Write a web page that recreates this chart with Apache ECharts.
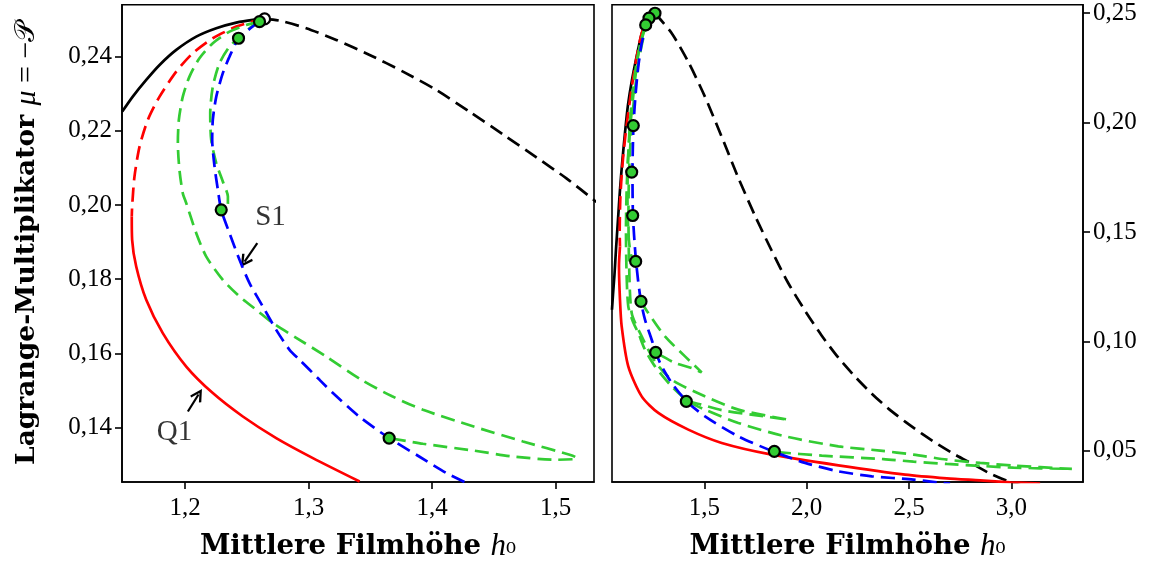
<!DOCTYPE html>
<html><head><meta charset="utf-8">
<script src="https://cdn.jsdelivr.net/npm/echarts@6/dist/echarts.min.js"></script>
<style>html,body{margin:0;padding:0;background:#fff}#c{width:1162px;height:567px}</style>
</head><body><div id="c"></div>
<script>
// ---------- tick labels ----------
const leftXTicks = [1.2, 1.3, 1.4, 1.5];
const leftYTicks = [0.14, 0.16, 0.18, 0.20, 0.22, 0.24];
const rightXTicks = [1.5, 2.0, 2.5, 3.0];
const rightYTicks = [0.05, 0.10, 0.15, 0.20, 0.25];

// ---------- left panel (zoom) ----------
const leftBlackSolid = [[1.1492,0.22518],[1.1577,0.22922],[1.1686,0.23372],[1.1794,0.23776],[1.1929,0.24181],[1.2091,0.24539],[1.2253,0.24765],[1.2415,0.24916],[1.2549,0.24989],[1.2644,0.25016]];
const leftBlackDashed = [[1.2644,0.25016],[1.2765,0.2497],[1.2981,0.24766],[1.3224,0.24450],[1.3494,0.24046],[1.3764,0.23596],[1.4034,0.23102],[1.4304,0.22509],[1.4573,0.21903],[1.4844,0.21283],[1.5087,0.20717],[1.5330,0.20080]];
const leftRedDashed = [[1.2644,0.2502],[1.2577,0.2497],[1.2415,0.24809],[1.2225,0.24496],[1.2063,0.24092],[1.1929,0.23596],[1.1794,0.22922],[1.1699,0.22294],[1.1632,0.21574],[1.1591,0.20766],[1.1572,0.19957],[1.1569,0.19688]];
const leftRedSolid = [[1.1569,0.19688],[1.1572,0.19059],[1.1605,0.18340],[1.1686,0.17442],[1.1820,0.16544],[1.2010,0.15644],[1.2225,0.14927],[1.2468,0.14296],[1.2738,0.13714],[1.3035,0.13175],[1.3413,0.12544]];
const leftBlue = [[1.2603,0.24962],[1.2563,0.24854],[1.2496,0.24674],[1.2433,0.24496],[1.2360,0.24000],[1.2306,0.23553],[1.2253,0.22922],[1.2225,0.22294],[1.2220,0.21755],[1.2239,0.21035],[1.2266,0.20407],[1.2293,0.19868],[1.2360,0.19240],[1.2441,0.18521],[1.2522,0.17892],[1.2630,0.17261],[1.2738,0.16633],[1.2846,0.16094],[1.2927,0.15825],[1.3089,0.15285],[1.3197,0.14927],[1.3409,0.14296],[1.3652,0.13714],[1.3895,0.13218],[1.4115,0.12771],[1.4263,0.12528]];
const leftGreenLong = [[1.2603,0.24943],[1.2496,0.24854],[1.2360,0.24674],[1.2225,0.24361],[1.2117,0.23957],[1.2036,0.23461],[1.1982,0.22922],[1.1950,0.22294],[1.1942,0.21666],[1.1955,0.20946],[1.1982,0.20318],[1.2010,0.20049],[1.2091,0.19240],[1.2172,0.18609],[1.2306,0.17981],[1.2441,0.17531],[1.2577,0.17173],[1.2711,0.16814],[1.2900,0.16418],[1.3143,0.15914],[1.3427,0.15286],[1.3676,0.14841],[1.3926,0.14477],[1.4330,0.14032],[1.4735,0.13623],[1.5113,0.13264],[1.5172,0.13175],[1.5154,0.13148],[1.5006,0.13129],[1.4654,0.13218],[1.4330,0.13380],[1.3926,0.13561],[1.3656,0.13714]];
const leftGreenShort = [[1.2603,0.24943],[1.2522,0.24766],[1.2433,0.24496],[1.2360,0.24270],[1.2279,0.23822],[1.2225,0.23191],[1.2204,0.22474],[1.2212,0.21755],[1.2253,0.21127],[1.2306,0.20631],[1.2347,0.20226],[1.2347,0.20030],[1.2320,0.19914],[1.2293,0.19868]];
const leftDots = [[1.2603,0.24943],[1.2433,0.24496],[1.2293,0.19868],[1.3652,0.13714]];
const leftFold = [[1.2644,0.25016]];
const leftLabels = [{name:'S1', value:[1.2692,0.19652]}, {name:'Q1', value:[1.1915,0.13857]}];
const leftArrows = [[[1.2585,0.18970],[1.2482,0.18474]], [[1.2023,0.14431],[1.2109,0.14889]]];

// ---------- right panel (overview) ----------
const rightBlackSolid = [[1.2590,0.25000],[1.2248,0.24694],[1.1955,0.24100],[1.1760,0.23324],[1.1466,0.21954],[1.1271,0.20813],[1.1124,0.19534],[1.0978,0.18073],[1.0880,0.16931],[1.0782,0.15562],[1.0684,0.14192],[1.0611,0.13050],[1.0538,0.12137],[1.0489,0.11452]];
const rightBlackDashed = [[1.2590,0.25000],[1.3407,0.24087],[1.4218,0.22776],[1.5034,0.21178],[1.5850,0.19352],[1.6662,0.17479],[1.7478,0.15744],[1.8294,0.14146],[1.9091,0.12685],[1.9922,0.11406],[2.0738,0.10265],[2.1549,0.09260],[2.2366,0.08393],[2.3182,0.07616],[2.3993,0.06932],[2.4809,0.06338],[2.5626,0.05790],[2.6437,0.05288],[2.7253,0.04831],[2.8069,0.04420],[2.8964,0.03964],[2.9941,0.03575],[3.0675,0.03370]];
const rightRedDashed = [[1.2590,0.2500],[1.2263,0.24772],[1.1940,0.24087],[1.1613,0.22562],[1.1369,0.21041],[1.1158,0.19521],[1.0992,0.17995],[1.0894,0.16475],[1.0865,0.14954],[1.0880,0.14342]];
const rightRedSolid = [[1.0880,0.14342],[1.0831,0.13429],[1.0880,0.11909],[1.0963,0.10689],[1.1285,0.08863],[1.1940,0.07493],[1.2752,0.06735],[1.4218,0.05973],[1.5850,0.05365],[1.8294,0.04831],[2.1549,0.04343],[2.4809,0.03918],[2.6848,0.03749],[2.8475,0.03657],[2.9941,0.03566],[3.1408,0.03507]];
const rightBlue = [[1.2346,0.24785],[1.2185,0.24466],[1.1940,0.23630],[1.1774,0.22562],[1.1647,0.21347],[1.1540,0.19854],[1.1491,0.17753],[1.1515,0.15744],[1.1637,0.13963],[1.1760,0.12822],[1.1906,0.11831],[1.2102,0.10995],[1.2429,0.10082],[1.2625,0.09502],[1.2918,0.08863],[1.3407,0.08105],[1.4140,0.07265],[1.5034,0.06580],[1.6662,0.05667],[1.8421,0.04954],[1.9922,0.04452],[2.1549,0.04069],[2.3182,0.03840],[2.5215,0.03690],[2.6359,0.03566],[2.7009,0.03507]];
const rightGreenLong = [[1.2136,0.24466],[1.1857,0.23553],[1.1613,0.21954],[1.1369,0.19671],[1.1222,0.17388],[1.1173,0.15105],[1.1197,0.13279],[1.1285,0.11603],[1.1515,0.10904],[1.1774,0.10388],[1.2102,0.09625],[1.2590,0.08863],[1.3407,0.07950],[1.4218,0.07265],[1.5034,0.06886],[1.6662,0.06279],[1.8944,0.05667],[2.1549,0.05210],[2.3588,0.05014],[2.5215,0.04831],[2.6848,0.04603],[2.8475,0.04452],[3.0103,0.04329],[3.2957,0.04178],[3.0103,0.04237],[2.8475,0.04315],[2.6848,0.04406],[2.5215,0.04511],[2.3749,0.04626],[2.0738,0.04785],[1.8421,0.04954]];
const rightGreenMid = [[1.2297,0.24772],[1.2053,0.24009],[1.1760,0.22639],[1.1515,0.20584],[1.1344,0.18301],[1.1295,0.16018],[1.1320,0.13735],[1.1452,0.11301],[1.1940,0.10233],[1.2590,0.09091],[1.3407,0.08256],[1.5034,0.07493],[1.6662,0.06886],[1.9106,0.06429],[1.7478,0.06635],[1.5850,0.06863],[1.4545,0.07192],[1.4120,0.07265]];
const rightGreenShort = [[1.1906,0.11831],[1.2263,0.11301],[1.3079,0.10233],[1.4057,0.09320],[1.4873,0.08589],[1.4384,0.08790],[1.3568,0.09018],[1.2625,0.09502]];
const rightGreenUpper = [[1.2136,0.24466],[1.1711,0.22868],[1.1417,0.20584],[1.1271,0.18301],[1.1246,0.16475],[1.1295,0.14877],[1.1417,0.13963],[1.1647,0.13658]];
const rightDots = [[1.2590,0.2500],[1.2297,0.24772],[1.2136,0.24466],[1.1530,0.19868],[1.1452,0.17740],[1.1500,0.15758],[1.1647,0.13658],[1.1906,0.11831],[1.2625,0.09502],[1.4120,0.07265],[1.8421,0.04982]];

// ---------- styling ----------
const GREEN = '#33cc33', RED = '#ff0000', BLUE = '#0000ff', BLACK = '#000000';
const DASH = [14, 7];
const tickFont = {fontFamily:'Liberation Serif', fontSize:25, color:'#000'};
const comma = d => v => v.toFixed(d).replace('.', ',');

function lineSeries(data, color, dashed, idx, z, width) {
  return {type:'line', xAxisIndex:idx, yAxisIndex:idx, data:data, showSymbol:false, symbol:'none',
    smooth:0.25, clip:true, animation:false, silent:true, z:z,
    lineStyle:{color:color, width:width || 2.7, type: dashed ? DASH : 'solid', cap:'butt'}};
}
function dotSeries(data, idx, fill) {
  return {type:'scatter', xAxisIndex:idx, yAxisIndex:idx, data:data, symbolSize:11, animation:false, silent:true, z:10,
    itemStyle:{color:fill, borderColor:'#000', borderWidth:2.2, opacity:1}};
}
const xName = '{b|Mittlere Filmhöhe }{i|h}{s|₀}';
const xNameStyle = {rich:{
  b:{fontFamily:'DejaVu Serif', fontWeight:'bold', fontSize:27.5, color:'#000'},
  i:{fontFamily:'Liberation Serif', fontStyle:'italic', fontSize:31, color:'#000'},
  s:{fontFamily:'DejaVu Serif', fontSize:25, color:'#000'}}};
function xAxis(idx, min, max, ticks) {
  return {type:'value', gridIndex:idx, min:min, max:max, position:'bottom',
    axisLine:{show:true, onZero:false, lineStyle:{color:'#000', width:1.6}},
    axisTick:{show:true, customValues:ticks, length:7, lineStyle:{color:'#000', width:1.6}},
    axisLabel:{customValues:ticks, formatter:comma(1), margin:14, ...tickFont},
    splitLine:{show:false},
    name:xName, nameLocation:'middle', nameGap:49, nameTextStyle:xNameStyle};
}
function yAxis(idx, min, max, ticks, pos) {
  return {type:'value', gridIndex:idx, min:min, max:max, position:pos,
    axisLine:{show:true, onZero:false, lineStyle:{color:'#000', width:1.6}},
    axisTick:{show:true, customValues:ticks, length:7, lineStyle:{color:'#000', width:1.6}},
    axisLabel:{customValues:ticks, formatter:comma(2), margin:10, ...tickFont},
    splitLine:{show:false}};
}
const arrowHead = 'path://M0,0 L6,10 L4.2,11.2 L0,4 L-4.2,11.2 L-6,10 Z';

const yLeft = yAxis(0, 0.1253, 0.2540, leftYTicks, 'left');
yLeft.name = '{b|Lagrange-Multiplikator }{m|μ}{r| = −}{p|𝒫}';
yLeft.nameLocation = 'middle';
yLeft.nameGap = 80;
yLeft.nameTextStyle = {rich:{
  b:{fontFamily:'DejaVu Serif', fontWeight:'bold', fontSize:26.5, color:'#000'},
  m:{fontFamily:'Liberation Serif', fontStyle:'italic', fontSize:30, color:'#000'},
  r:{fontFamily:'Liberation Serif', fontSize:30, color:'#000'},
  p:{fontFamily:'DejaVu Sans', fontSize:28, color:'#000'}}};

const option = {
  backgroundColor:'#ffffff',
  animation:false,
  grid:[
    {left:122, top:4.7, width:472, height:477.6, show:true, borderColor:'#000', borderWidth:1.6},
    {left:612, top:4.7, width:471, height:477.6, show:true, borderColor:'#000', borderWidth:1.6}
  ],
  xAxis:[xAxis(0, 1.149, 1.531, leftXTicks), xAxis(1, 1.049, 3.350, rightXTicks)],
  yAxis:[yLeft, yAxis(1, 0.0358, 0.2539, rightYTicks, 'right')],
  series:[
    lineSeries(leftBlackSolid, BLACK, false, 0, 2),
    lineSeries(leftBlackDashed, BLACK, true, 0, 2),
    lineSeries(leftRedDashed, RED, true, 0, 3),
    lineSeries(leftRedSolid, RED, false, 0, 3),
    lineSeries(leftGreenLong, GREEN, true, 0, 4),
    lineSeries(leftGreenShort, GREEN, true, 0, 4),
    lineSeries(leftBlue, BLUE, true, 0, 5),
    dotSeries(leftFold, 0, '#ffffff'),
    dotSeries(leftDots, 0, GREEN),
    {type:'scatter', xAxisIndex:0, yAxisIndex:0, data:leftLabels, symbolSize:0, silent:true, z:12,
      label:{show:true, position:'inside', formatter:p => p.name, fontFamily:'Liberation Serif', fontSize:29, color:'#000'}},
    {type:'line', xAxisIndex:0, yAxisIndex:0, data:[], silent:true, z:12,
      markLine:{silent:true, animation:false, symbol:['none', arrowHead], symbolSize:[13,13],
        label:{show:false}, lineStyle:{color:'#000', width:2.2, type:'solid'},
        data:leftArrows.map(a => [{coord:a[0]}, {coord:a[1]}])}},

    lineSeries(rightBlackSolid, BLACK, false, 1, 2),
    lineSeries(rightBlackDashed, BLACK, true, 1, 2),
    lineSeries(rightRedDashed, RED, true, 1, 3),
    lineSeries(rightRedSolid, RED, false, 1, 3),
    lineSeries(rightGreenLong, GREEN, true, 1, 4),
    lineSeries(rightGreenMid, GREEN, true, 1, 4),
    lineSeries(rightGreenShort, GREEN, true, 1, 4),
    lineSeries(rightGreenUpper, GREEN, true, 1, 4),
    lineSeries(rightBlue, BLUE, true, 1, 5),
    dotSeries(rightDots, 1, GREEN)
  ]
};
const chart = echarts.init(document.getElementById('c'));
chart.setOption(option);
</script>
</body></html>
